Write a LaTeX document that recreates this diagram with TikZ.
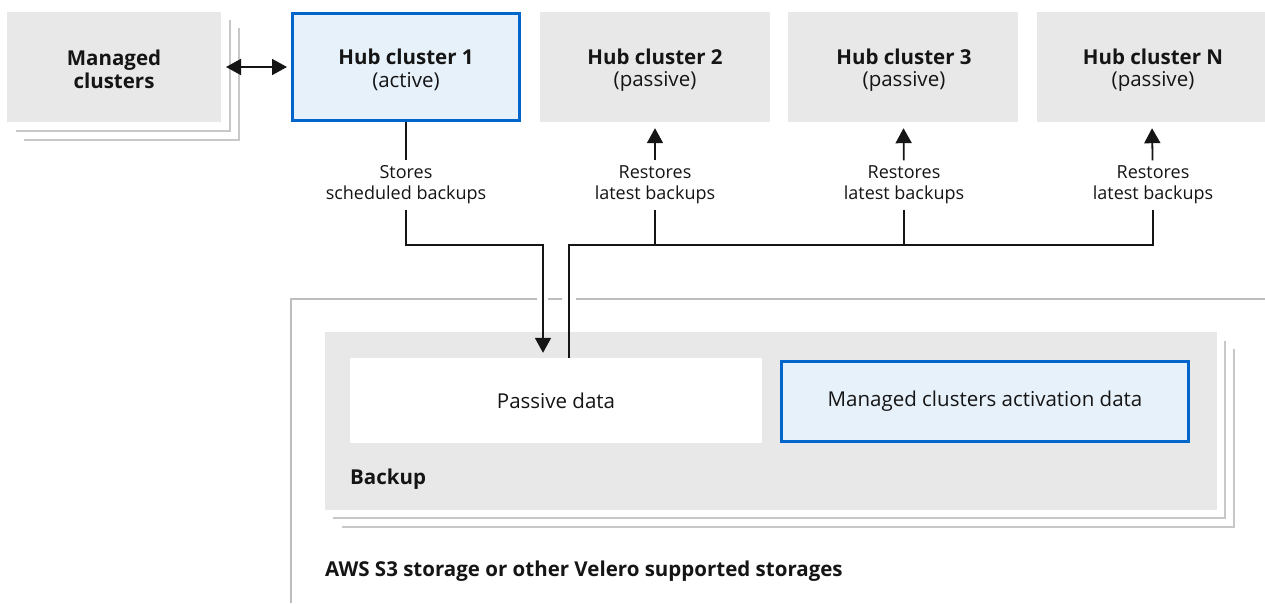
\documentclass[tikz,border=0pt]{standalone}
\usepackage{fontspec}
\setmainfont{Open Sans}
\usetikzlibrary{arrows.meta}
\definecolor{boxgrey}{HTML}{E8E8E8}
\definecolor{shadowgrey}{HTML}{C8C8C8}
\definecolor{framegrey}{HTML}{BDBDBD}
\definecolor{hubblue}{HTML}{0066CC}
\definecolor{lightblue}{HTML}{E7F1FA}
\definecolor{ink}{HTML}{151515}
\tikzset{
  base/.style={font=\fontsize{20.5}{22.5}\selectfont, text=ink, align=center, inner sep=0pt},
  boldtxt/.style={base, font=\fontsize{20.5}{22.5}\selectfont\bfseries},
  greybox/.style={rectangle, fill=boxgrey, draw=none, inner sep=0pt},
  bluebox/.style={rectangle, fill=lightblue, draw=hubblue, line width=3pt, inner sep=0pt},
  lbl/.style={base, font=\fontsize{18}{21}\selectfont},
  conn/.style={draw=ink, line width=1.8pt},
  arr/.style={conn, -{Triangle[length=15pt,width=16pt]}},
  dblarr/.style={conn, {Triangle[length=15pt,width=16pt]}-{Triangle[length=15pt,width=16pt]}},
  shadow/.style={draw=shadowgrey, line width=2pt},
  frame/.style={draw=framegrey, line width=2pt},
}
\begin{document}
\begin{tikzpicture}[x=1pt,y=-1pt]
\useasboundingbox (0,0) rectangle (1265,603);
\fill[white] (0,0) rectangle (1265,603);

% managed clusters with stacked shadows
\draw[shadow] (16,131) -- (230,131) -- (230,20);
\draw[shadow] (24,140) -- (239,140) -- (239,28);
\node[greybox, minimum width=214pt, minimum height=110pt] (mc) at (114,67) {};
\node[boldtxt] (mct) at (114,69.5) {Managed\\clusters};

% hubs
\node[bluebox, minimum width=227pt, minimum height=107pt] (hub1) at (406,67) {};
\node[greybox, minimum width=230pt, minimum height=110pt] (hub2) at (655,67) {};
\node[greybox, minimum width=230pt, minimum height=110pt] (hub3) at (903,67) {};
\node[greybox, minimum width=228pt, minimum height=110pt] (hubN) at (1151,67) {};
\node[base] (hub1t) at (406,70) {\textbf{Hub cluster 1}\\(active)};
\node[base] (hub2t) at (655,70) {\textbf{Hub cluster 2}\\(passive)};
\node[base] (hub3t) at (904,70) {\textbf{Hub cluster 3}\\(passive)};
\node[base] (hubNt) at (1153,70) {\textbf{Hub cluster N}\\(passive)};

\coordinate (dblL) at (226,67);
\draw[dblarr] (dblL) -- ([xshift=-4pt]dblL -| hub1.west);

% labels
\node[lbl, minimum height=49pt] (st1) at (406,185) {Stores\\scheduled backups};
\node[lbl, minimum height=49pt] (rs2) at (655,185) {Restores\\latest backups};
\node[lbl, minimum height=49pt] (rs3) at (904,185) {Restores\\latest backups};
\node[lbl, minimum height=49pt] (rsN) at (1153,185) {Restores\\latest backups};

% storage frame
\draw[frame] (1265,299) -- (576,299);
\draw[frame] (562,299) -- (548,299);
\draw[frame] (537,299) -- (291,299) -- (291,603);

% backup box with shadows
\draw[shadow] (333,518) -- (1225,518) -- (1225,341);
\draw[shadow] (342,527) -- (1234,527) -- (1234,349);
\node[greybox, minimum width=892pt, minimum height=178pt] (backup) at (771,421) {};
\node[boldtxt, anchor=west] (backuplbl) at (350,479) {Backup};

\node[base, rectangle, fill=white, minimum width=412pt, minimum height=85pt] (passive) at (556,400.5) {Passive data};
\node[bluebox, base, minimum width=407pt, minimum height=80pt] (act) at (985,401) {Managed clusters activation data};

\node[boldtxt, anchor=west] (aws) at (325,571) {AWS S3 storage or other Velero supported storages};

% connectors
\coordinate (storeX) at (543,245);
\coordinate (busL) at (569,245);
\coordinate (busR) at (1153,245);

\draw[conn] (hub1) -- (st1);
\draw[arr, shorten >=5pt] (st1.south) |- (storeX) -- (storeX |- passive.north);
\draw[conn] (passive.north -| busL) -- (busL) -- (busR) -- (rsN.south);
\draw[conn] (rs2.south) -- (rs2.south |- busL);
\draw[conn] (rs3.south) -- (rs3.south |- busL);
\draw[arr, shorten >=6pt] (rs2) -- (hub2);
\draw[arr, shorten >=6pt] (rs3) -- (hub3);
\draw[arr, shorten >=6pt] (rsN) -- (hubN);
\end{tikzpicture}
\end{document}
